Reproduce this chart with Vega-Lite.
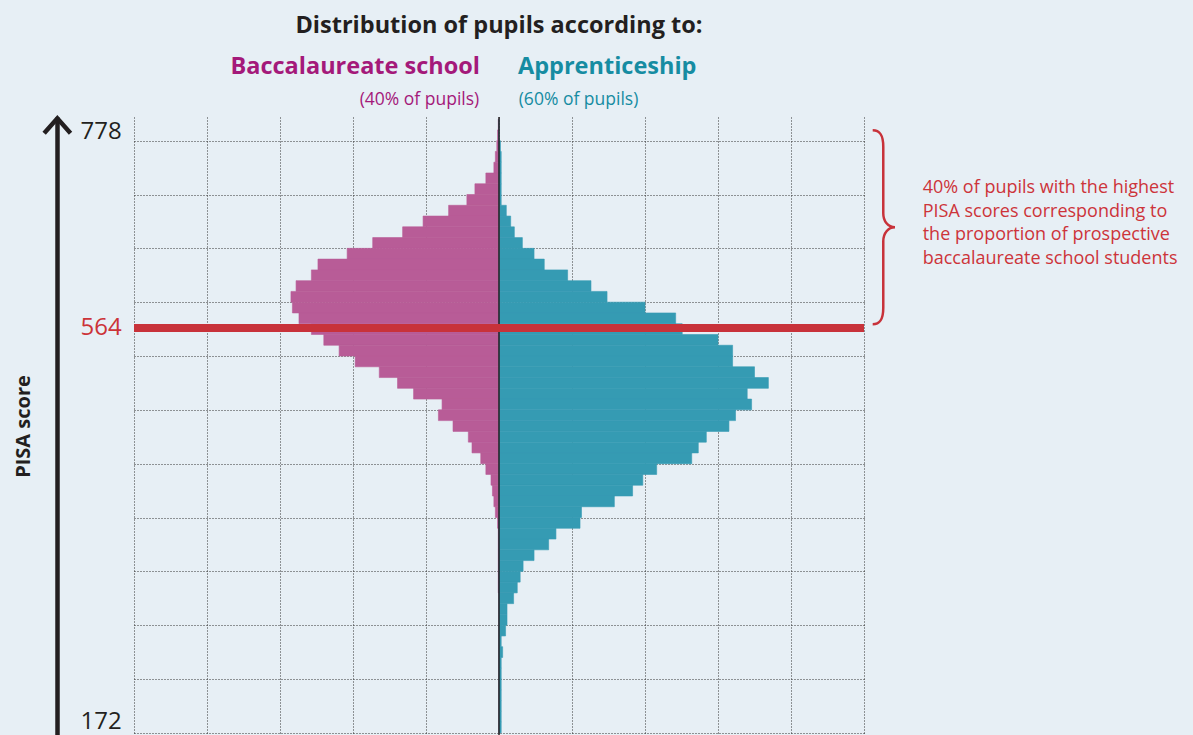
{
  "$schema": "https://vega.github.io/schema/vega-lite/v6.json",
  "width": 730,
  "height": 618,
  "autosize": {"type": "none"},
  "padding": {"left": 134, "top": 117, "right": 329, "bottom": 0},
  "background": "#e7eff5",
  "config": {"view": {"stroke": null}, "font": "Open Sans"},
  "datasets": {
    "pisa": [
      {"score_from": 748, "score_to": 758, "Baccalaureate school": 0.01, "Apprenticeship": 0},
      {"score_from": 738, "score_to": 748, "Baccalaureate school": 0.02, "Apprenticeship": 0},
      {"score_from": 728, "score_to": 738, "Baccalaureate school": 0.03, "Apprenticeship": 0.02},
      {"score_from": 718, "score_to": 728, "Baccalaureate school": 0.05, "Apprenticeship": 0.03},
      {"score_from": 708, "score_to": 718, "Baccalaureate school": 0.07, "Apprenticeship": 0.03},
      {"score_from": 698, "score_to": 708, "Baccalaureate school": 0.18, "Apprenticeship": 0.03},
      {"score_from": 688, "score_to": 698, "Baccalaureate school": 0.33, "Apprenticeship": 0.03},
      {"score_from": 678, "score_to": 688, "Baccalaureate school": 0.44, "Apprenticeship": 0.03},
      {"score_from": 668, "score_to": 678, "Baccalaureate school": 0.69, "Apprenticeship": 0.10},
      {"score_from": 658, "score_to": 668, "Baccalaureate school": 1.04, "Apprenticeship": 0.16},
      {"score_from": 648, "score_to": 658, "Baccalaureate school": 1.32, "Apprenticeship": 0.21},
      {"score_from": 638, "score_to": 648, "Baccalaureate school": 1.73, "Apprenticeship": 0.32},
      {"score_from": 628, "score_to": 638, "Baccalaureate school": 2.08, "Apprenticeship": 0.48},
      {"score_from": 618, "score_to": 628, "Baccalaureate school": 2.48, "Apprenticeship": 0.62},
      {"score_from": 608, "score_to": 618, "Baccalaureate school": 2.57, "Apprenticeship": 0.94},
      {"score_from": 598, "score_to": 608, "Baccalaureate school": 2.78, "Apprenticeship": 1.26},
      {"score_from": 588, "score_to": 598, "Baccalaureate school": 2.85, "Apprenticeship": 1.48},
      {"score_from": 578, "score_to": 588, "Baccalaureate school": 2.83, "Apprenticeship": 2.00},
      {"score_from": 568, "score_to": 578, "Baccalaureate school": 2.74, "Apprenticeship": 2.42},
      {"score_from": 558, "score_to": 568, "Baccalaureate school": 2.57, "Apprenticeship": 2.51},
      {"score_from": 548, "score_to": 558, "Baccalaureate school": 2.40, "Apprenticeship": 3.00},
      {"score_from": 538, "score_to": 548, "Baccalaureate school": 2.19, "Apprenticeship": 3.20},
      {"score_from": 528, "score_to": 538, "Baccalaureate school": 1.97, "Apprenticeship": 3.20},
      {"score_from": 518, "score_to": 528, "Baccalaureate school": 1.64, "Apprenticeship": 3.50},
      {"score_from": 508, "score_to": 518, "Baccalaureate school": 1.39, "Apprenticeship": 3.69},
      {"score_from": 498, "score_to": 508, "Baccalaureate school": 1.17, "Apprenticeship": 3.40},
      {"score_from": 488, "score_to": 498, "Baccalaureate school": 0.78, "Apprenticeship": 3.46},
      {"score_from": 478, "score_to": 488, "Baccalaureate school": 0.83, "Apprenticeship": 3.24},
      {"score_from": 468, "score_to": 478, "Baccalaureate school": 0.63, "Apprenticeship": 3.15},
      {"score_from": 458, "score_to": 468, "Baccalaureate school": 0.42, "Apprenticeship": 2.84},
      {"score_from": 448, "score_to": 458, "Baccalaureate school": 0.37, "Apprenticeship": 2.73},
      {"score_from": 438, "score_to": 448, "Baccalaureate school": 0.25, "Apprenticeship": 2.64},
      {"score_from": 428, "score_to": 438, "Baccalaureate school": 0.18, "Apprenticeship": 2.16},
      {"score_from": 418, "score_to": 428, "Baccalaureate school": 0.11, "Apprenticeship": 1.97},
      {"score_from": 408, "score_to": 418, "Baccalaureate school": 0.09, "Apprenticeship": 1.83},
      {"score_from": 398, "score_to": 408, "Baccalaureate school": 0.07, "Apprenticeship": 1.58},
      {"score_from": 388, "score_to": 398, "Baccalaureate school": 0.05, "Apprenticeship": 1.13},
      {"score_from": 378, "score_to": 388, "Baccalaureate school": 0.02, "Apprenticeship": 1.11},
      {"score_from": 368, "score_to": 378, "Baccalaureate school": 0.01, "Apprenticeship": 0.78},
      {"score_from": 358, "score_to": 368, "Baccalaureate school": 0.01, "Apprenticeship": 0.68},
      {"score_from": 348, "score_to": 358, "Baccalaureate school": 0.01, "Apprenticeship": 0.48},
      {"score_from": 338, "score_to": 348, "Baccalaureate school": 0.01, "Apprenticeship": 0.33},
      {"score_from": 328, "score_to": 338, "Baccalaureate school": 0.01, "Apprenticeship": 0.29},
      {"score_from": 318, "score_to": 328, "Baccalaureate school": 0.01, "Apprenticeship": 0.25},
      {"score_from": 308, "score_to": 318, "Baccalaureate school": 0, "Apprenticeship": 0.20},
      {"score_from": 298, "score_to": 308, "Baccalaureate school": 0, "Apprenticeship": 0.11},
      {"score_from": 288, "score_to": 298, "Baccalaureate school": 0, "Apprenticeship": 0.11},
      {"score_from": 278, "score_to": 288, "Baccalaureate school": 0, "Apprenticeship": 0.09},
      {"score_from": 268, "score_to": 278, "Baccalaureate school": 0, "Apprenticeship": 0.03},
      {"score_from": 258, "score_to": 268, "Baccalaureate school": 0, "Apprenticeship": 0.05},
      {"score_from": 248, "score_to": 258, "Baccalaureate school": 0, "Apprenticeship": 0.03},
      {"score_from": 238, "score_to": 248, "Baccalaureate school": 0, "Apprenticeship": 0.03},
      {"score_from": 228, "score_to": 238, "Baccalaureate school": 0, "Apprenticeship": 0.03},
      {"score_from": 218, "score_to": 228, "Baccalaureate school": 0, "Apprenticeship": 0.03},
      {"score_from": 208, "score_to": 218, "Baccalaureate school": 0, "Apprenticeship": 0.03},
      {"score_from": 198, "score_to": 208, "Baccalaureate school": 0, "Apprenticeship": 0.03},
      {"score_from": 188, "score_to": 198, "Baccalaureate school": 0, "Apprenticeship": 0.03}
    ]
  },
  "data": {"name": "pisa"},
  "resolve": {"axis": {"x": "independent", "y": "independent"}},
  "layer": [
    {
      "transform": [
        {"fold": ["Baccalaureate school", "Apprenticeship"], "as": ["track", "share"]},
        {"calculate": "datum.track === 'Baccalaureate school' ? -datum.share : datum.share", "as": "extent"}
      ],
      "mark": {"type": "rect", "strokeWidth": 0.6},
      "encoding": {
        "y": {
          "field": "score_from", "type": "quantitative",
          "scale": {"domain": [186, 760], "nice": false, "zero": false},
          "axis": {"orient": "left", "values": [188, 238, 288, 338, 388, 438, 488, 538, 588, 638, 688, 738], "grid": true, "gridColor": "#333333", "gridDash": [1, 2], "gridWidth": 1, "domain": false, "ticks": false, "labels": false, "title": null}
        },
        "y2": {"field": "score_to"},
        "x": {
          "field": "extent", "type": "quantitative",
          "scale": {"domain": [-5, 5], "nice": false, "zero": false},
          "axis": {"orient": "bottom", "values": [-5, -4, -3, -2, -1, 0, 1, 2, 3, 4, 5], "grid": true, "gridColor": "#333333", "gridDash": [1, 2], "gridWidth": 1, "domain": false, "ticks": false, "labels": false, "title": null}
        },
        "x2": {"datum": 0},
        "color": {
          "field": "track", "type": "nominal",
          "scale": {"domain": ["Baccalaureate school", "Apprenticeship"], "range": ["#b85c97", "#359bb3"]},
          "legend": null
        },
        "stroke": {
          "field": "track", "type": "nominal",
          "scale": {"domain": ["Baccalaureate school", "Apprenticeship"], "range": ["#b85c97", "#359bb3"]},
          "legend": null
        }
      }
    },
    {
      "data": {"values": [{}]},
      "mark": {"type": "rule", "color": "#231f20", "strokeWidth": 1.5},
      "encoding": {"x": {"datum": 0, "type": "quantitative", "axis": null}}
    },
    {
      "data": {"values": [{}]},
      "mark": {"type": "rule", "color": "#c8323a", "strokeWidth": 8},
      "encoding": {"y": {"datum": 564, "type": "quantitative", "axis": null}}
    },
    {
      "data": {"values": [{}]},
      "mark": {"type": "text", "text": "564", "font": "Open Sans", "fontSize": 24, "color": "#cc3338", "align": "right", "baseline": "middle"},
      "encoding": {
        "x": {"datum": -5.168, "type": "quantitative", "axis": null},
        "y": {"datum": 564, "type": "quantitative",
          "axis": {"orient": "left", "offset": 77, "domain": true, "domainColor": "#231f20", "domainWidth": 4.5, "ticks": false, "labels": false, "grid": false,
            "title": "PISA score", "titleFont": "Open Sans", "titleFontSize": 20, "titleFontWeight": "bold", "titleColor": "#231f20", "titlePadding": 24}}
      }
    },
    {
      "data": {"values": [{}]},
      "mark": {"type": "text", "text": "778", "font": "Open Sans", "fontSize": 24, "color": "#231f20", "align": "right", "baseline": "top", "dy": 3},
      "encoding": {
        "x": {"datum": -5.168, "type": "quantitative", "axis": null},
        "y": {"datum": 760, "type": "quantitative", "axis": null}
      }
    },
    {
      "data": {"values": [{}]},
      "mark": {"type": "text", "text": "172", "font": "Open Sans", "fontSize": 24, "color": "#231f20", "align": "right", "baseline": "bottom", "dy": -1},
      "encoding": {
        "x": {"datum": -5.168, "type": "quantitative", "axis": null},
        "y": {"datum": 186, "type": "quantitative", "axis": null}
      }
    },
    {
      "data": {"values": [{}]},
      "mark": {"type": "point", "shape": "M-1,1.235L0,0.1L1,1.235", "size": 697, "filled": false, "stroke": "#231f20", "strokeWidth": 4.5, "strokeJoin": "miter", "strokeCap": "butt", "opacity": 1},
      "encoding": {
        "x": {"datum": -6.05, "type": "quantitative", "axis": null},
        "y": {"datum": 760, "type": "quantitative", "axis": null}
      }
    },
    {
      "data": {"values": [{}]},
      "mark": {"type": "point", "shape": "M-0.109,-1C-0.04,-1,0,-0.96,0,-0.83L0,-0.145C0,-0.06,0.05,0,0.121,0C0.05,0,0,0.06,0,0.145L0,0.83C0,0.96,-0.04,1,-0.109,1", "size": 37636, "filled": false, "stroke": "#c8323a", "strokeWidth": 2.5, "opacity": 1},
      "encoding": {
        "x": {"datum": 5.264, "type": "quantitative", "axis": null},
        "y": {"datum": 657.6, "type": "quantitative", "axis": null}
      }
    },
    {
      "data": {"values": [{}]},
      "mark": {"type": "text", "text": ["40% of pupils with the highest", "PISA scores corresponding to", "the proportion of prospective", "baccalaureate school students"], "font": "Open Sans", "fontSize": 18, "lineHeight": 23.7, "color": "#cd343a", "align": "left", "baseline": "alphabetic"},
      "encoding": {
        "x": {"datum": 5.804, "type": "quantitative", "axis": null},
        "y": {"datum": 689.4, "type": "quantitative", "axis": null}
      }
    },
    {
      "data": {"values": [{}]},
      "mark": {"type": "text", "text": "Distribution of pupils according to:", "font": "Open Sans", "fontSize": 23.5, "fontWeight": "bold", "color": "#231f20", "align": "center", "baseline": "alphabetic"},
      "encoding": {
        "x": {"datum": 0, "type": "quantitative", "axis": null},
        "y": {"datum": 838, "type": "quantitative", "axis": null}
      }
    },
    {
      "data": {"values": [{}]},
      "mark": {"type": "text", "text": "Baccalaureate school", "font": "Open Sans", "fontSize": 23.5, "fontWeight": "bold", "color": "#a4197a", "align": "right", "baseline": "alphabetic"},
      "encoding": {
        "x": {"datum": -0.26, "type": "quantitative", "axis": null},
        "y": {"datum": 800, "type": "quantitative", "axis": null}
      }
    },
    {
      "data": {"values": [{}]},
      "mark": {"type": "text", "text": "Apprenticeship", "font": "Open Sans", "fontSize": 23.5, "fontWeight": "bold", "color": "#168ca2", "align": "left", "baseline": "alphabetic"},
      "encoding": {
        "x": {"datum": 0.26, "type": "quantitative", "axis": null},
        "y": {"datum": 800, "type": "quantitative", "axis": null}
      }
    },
    {
      "data": {"values": [{}]},
      "mark": {"type": "text", "text": "(40% of pupils)", "font": "Open Sans", "fontSize": 17.5, "color": "#a4197a", "align": "right", "baseline": "alphabetic"},
      "encoding": {
        "x": {"datum": -0.27, "type": "quantitative", "axis": null},
        "y": {"datum": 770.7, "type": "quantitative", "axis": null}
      }
    },
    {
      "data": {"values": [{}]},
      "mark": {"type": "text", "text": "(60% of pupils)", "font": "Open Sans", "fontSize": 17.5, "color": "#168ca2", "align": "left", "baseline": "alphabetic"},
      "encoding": {
        "x": {"datum": 0.27, "type": "quantitative", "axis": null},
        "y": {"datum": 770.7, "type": "quantitative", "axis": null}
      }
    }
  ]
}
